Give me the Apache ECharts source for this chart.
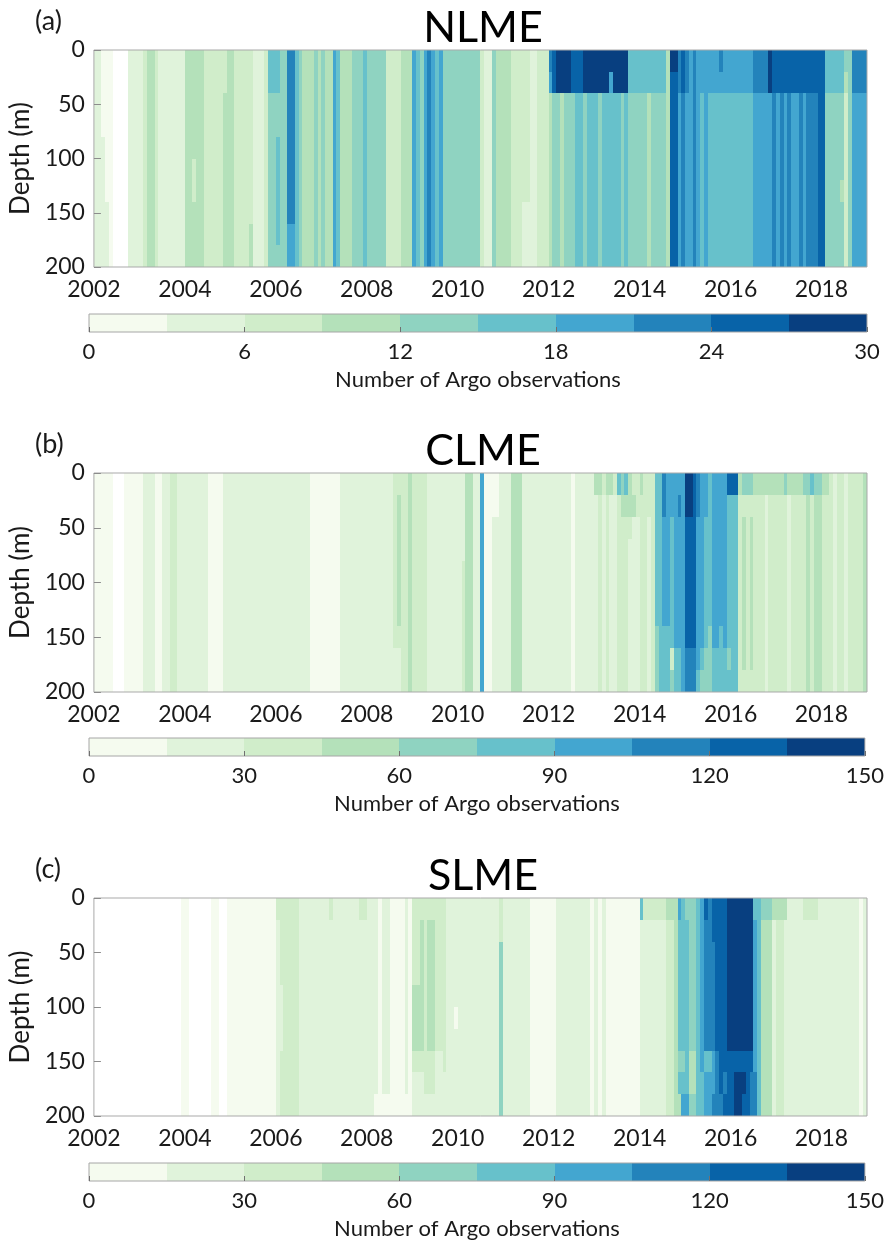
<!DOCTYPE html>
<html><head><meta charset="utf-8">
<script src="https://cdn.jsdelivr.net/npm/echarts@6/dist/echarts.min.js"></script>
<style>html,body{margin:0;padding:0;background:#fff}#c{width:887px;height:1245px}</style>
</head><body><div id="c"></div>
<script>
// ---------- data ----------
const startYear = 2002, endYear = 2019;
const yearTickStep = 2;
const depthEdges = [0, 20, 40, 60, 80, 100, 120, 140, 160, 180, 200];
const depthTickStep = 50;
const palette = ['#f5fbef', '#e0f3db', '#d0edca', '#b4e1ba', '#8fd3c1',
                 '#67c1cb', '#43a6d0', '#2383bb', '#0863a8', '#083f80'];
const nlmeLevels = [0, 3, 6, 9, 12, 15, 18, 21, 24, 27, 30];
const clmeLevels = [0, 15, 30, 45, 60, 75, 90, 105, 120, 135, 150];
const slmeLevels = [0, 15, 30, 45, 60, 75, 90, 105, 120, 135, 150];
const nlmeTicks = [0, 6, 12, 18, 24, 30];
const clmeTicks = [0, 30, 60, 90, 120, 150];
const slmeTicks = [0, 30, 60, 90, 120, 150];
const panelNames = ['NLME', 'CLME', 'SLME'];
const panelLetters = ['(a)', '(b)', '(c)'];

// monthly runs from Jan 2002: [number of months, colour class per 20 m depth bin (0-20 ... 180-200 m), '-' = no data]
const nlmeRuns = [
 [2,'1111111111'],[1,'0000111111'],[1,'0000000111'],[1,'0000000000'],[4,'----------'],
 [4,'1111111111'],[1,'2222222222'],[2,'3333333333'],[1,'2222222222'],[7,'1111111111'],
 [2,'3333333333'],[1,'3333322333'],[2,'3333333333'],[5,'2222222222'],[1,'2233333333'],
 [2,'3333333333'],[4,'2222222222'],[1,'2222222233'],[3,'1111111111'],[1,'2222222222'],
 [2,'5544444444'],[1,'5544555554'],[2,'4444444444'],[2,'7777777766'],[1,'5555555555'],
 [1,'4444444444'],[3,'3333333333'],[1,'4444444444'],[1,'3333333333'],[1,'4444444444'],
 [2,'3333333333'],[1,'6666666666'],[1,'5555555555'],[3,'3333333333'],[3,'4444444444'],
 [1,'5555555555'],[5,'4444444444'],[4,'2222222222'],[3,'3333333333'],[1,'6666666666'],
 [1,'5555555555'],[1,'4444444444'],[1,'6666666666'],[1,'7777777777'],[1,'6666666666'],
 [1,'5555555555'],[1,'6666666666'],[10,'4444444444'],[1,'2222222222'],[2,'1111111111'],
 [1,'4444444444'],[4,'3333333333'],[3,'2222222222'],[2,'2222222111'],[2,'1111111111'],
 [3,'2222222222'],[1,'7633333333'],[1,'8844444444'],[1,'9944444444'],[1,'9933333333'],
 [2,'9944444444'],[1,'8844444444'],[2,'8855555555'],[1,'9944444444'],[3,'9955555555'],
 [1,'9944444444'],[2,'9955555555'],[1,'9655555555'],[2,'9955555555'],[1,'9944444444'],
 [1,'9955555555'],[5,'5544444444'],[1,'5533333333'],[4,'5544444444'],[1,'3333333333'],
 [2,'9888888888'],[1,'7766666666'],[1,'8877777777'],[1,'7766666666'],[1,'6666666666'],
 [1,'7777777777'],[1,'6666666666'],[1,'6655555555'],[1,'6666666666'],[3,'6655555555'],
 [1,'7655555555'],[8,'6655555555'],[4,'7766666666'],[1,'9966666666'],[1,'8877777777'],
 [1,'8866666666'],[1,'8877777777'],[1,'8866666666'],[1,'8877777777'],[2,'8866666666'],
 [1,'8877777777'],[1,'8866666666'],[3,'8877777777'],[2,'8888888888'],[4,'5544444444'],
 [1,'5544443444'],[1,'4322222222'],[1,'4444444444'],[4,'7766666666']
];
const clmeRuns = [
 [5,'0000000000'],[3,'----------'],[5,'0000000000'],[3,'1111111111'],[2,'0000000000'],
 [2,'1111111111'],[2,'2222222222'],[8,'1111111111'],[4,'0000000000'],[23,'1111111111'],
 [8,'0000000000'],[14,'1111111111'],[1,'2222222211'],[1,'2333333211'],[2,'2222222222'],
 [1,'3333333333'],[4,'2222222222'],[9,'1111111111'],[1,'1111222222'],[2,'3333333333'],
 [2,'1111111111'],[1,'6666666666'],[2,'0000000000'],[2,'0011111111'],[3,'1111111111'],
 [3,'3333333333'],[13,'1111111111'],[1,'0000000000'],[5,'1111111111'],[1,'3111111111'],
 [1,'3222222222'],[1,'2111111111'],[1,'3222222222'],[1,'3111111111'],[1,'2111111111'],
 [1,'5222222222'],[1,'4322222222'],[1,'5322222222'],[1,'3321111111'],[1,'2311111111'],
 [1,'2211111111'],[1,'3222222222'],[1,'2222222222'],[1,'2211111111'],[1,'2222222222'],
 [1,'5555555444'],[1,'5555555555'],[1,'7766666555'],[1,'6666666555'],[1,'6655555524'],
 [1,'6666666655'],[1,'6766666655'],[1,'6666666666'],[2,'9988888877'],[1,'8888888877'],
 [1,'7766666665'],[1,'6666666654'],[1,'6655555544'],[1,'5555555444'],[2,'6666666655'],
 [1,'6666666555'],[1,'6666666655'],[1,'8555555545'],[2,'8555555555'],[1,'3222222222'],
 [1,'4233333332'],[1,'4222222222'],[1,'4233333332'],[3,'3222222222'],[1,'3111111111'],
 [4,'3222222222'],[1,'4222222222'],[1,'3111111111'],[3,'3222222222'],[1,'4222222222'],
 [1,'4333333333'],[1,'5222222222'],[2,'4333333333'],[2,'3222222222'],[1,'2222222222'],
 [1,'1111111111'],[2,'2222222222'],[1,'1111111111'],[4,'2222222222'],[1,'3333333333']
];
const slmeRuns = [
 [23,'----------'],[2,'0000000000'],[6,'----------'],[2,'0000000000'],[2,'----------'],
 [13,'0000000000'],[1,'2111111111'],[1,'2222111222'],[4,'2222222222'],[8,'1111111111'],
 [1,'2111111111'],[7,'1111111111'],[2,'2111111111'],[2,'1111111111'],[1,'1111111110'],
 [1,'0000000000'],[2,'1111111110'],[4,'0000000000'],[1,'1111111110'],[1,'0000000000'],
 [2,'2222333211'],[1,'2333333211'],[1,'2222222221'],[2,'2333333221'],[2,'2222222111'],
 [1,'2222222211'],[2,'1111111111'],[1,'1111101111'],[11,'1111111111'],[1,'2244444444'],
 [7,'1111111111'],[7,'0000000000'],[9,'1111111111'],[1,'0000000000'],[1,'1111111111'],
 [1,'0000000000'],[1,'1111111111'],[9,'0000000000'],[1,'5111111111'],[6,'2111111111'],
 [2,'3222222222'],[1,'3333333333'],[1,'6555555453'],[1,'5555555456'],[1,'4555555556'],
 [2,'4444444334'],[1,'5555555555'],[1,'6666666655'],[1,'8777777566'],[1,'7777777566'],
 [1,'8877777667'],[1,'8888888777'],[1,'8888888887'],[1,'8888888878'],[2,'9999999888'],
 [2,'9999999899'],[1,'9999999898'],[1,'9999999888'],[1,'9999999877'],[1,'5666666677'],
 [1,'5555555555'],[3,'4333333333'],[1,'3111111111'],[2,'3222222222'],[1,'3111111111'],
 [4,'1111111111'],[4,'2111111111'],[11,'1111111111'],[1,'0000000000'],[1,'1111111111']
];

// ---------- build ----------
function buildCells(runs) {
  const cells = [];
  let m = 0;
  runs.forEach(([n, prof]) => {
    let d = 0;
    while (d < prof.length) {
      let e = d;
      while (e + 1 < prof.length && prof[e + 1] === prof[d]) e++;
      if (prof[d] !== '-') {
        cells.push([startYear + m / 12, startYear + (m + n) / 12, depthEdges[d], depthEdges[e + 1], +prof[d]]);
      }
      d = e + 1;
    }
    m += n;
  });
  return cells;
}
function buildBar(levels) {
  const out = [];
  for (let i = 0; i < levels.length - 1; i++) out.push([levels[i], levels[i + 1], 0, 1, i]);
  return out;
}
function renderRect(params, api) {
  const p0 = api.coord([api.value(0), api.value(2)]);
  const p1 = api.coord([api.value(1), api.value(3)]);
  const x0 = Math.round(p0[0]), x1 = Math.round(p1[0]);
  const y0 = Math.round(Math.min(p0[1], p1[1])), y1 = Math.round(Math.max(p0[1], p1[1]));
  return { type: 'rect', shape: { x: x0, y: y0, width: x1 - x0, height: y1 - y0 },
           style: { fill: palette[api.value(4)] } };
}

const runsAll = [nlmeRuns, clmeRuns, slmeRuns];
const levelsAll = [nlmeLevels, clmeLevels, slmeLevels];
const ticksAll = [nlmeTicks, clmeTicks, slmeTicks];
const FONT = 'Lato, "Open Sans", sans-serif';
const NARROW = '"Liberation Sans Narrow", Lato, sans-serif';
const plotLeft = 89, plotWidth = 778;
const panelTop = [50, 473, 898];
const panelH = [217, 219, 218];
const barTop = [314, 738, 1163];
const barH = 18;

const grid = [], xAxis = [], yAxis = [], series = [], title = [];
for (let k = 0; k < 3; k++) {
  grid.push({ left: plotLeft, top: panelTop[k], width: plotWidth, height: panelH[k],
              show: true, borderColor: '#a9a9a9', borderWidth: 1, backgroundColor: 'transparent', z: 10 });
  grid.push({ left: plotLeft, top: barTop[k], width: plotWidth, height: barH,
              show: true, borderColor: '#a6a6a6', borderWidth: 1, backgroundColor: 'transparent', z: 10 });
  xAxis.push({ gridIndex: 2 * k, type: 'value', min: startYear, max: endYear, interval: yearTickStep,
    axisLine: { show: false }, axisTick: { show: false }, splitLine: { show: false },
    axisLabel: { fontSize: 23, fontFamily: FONT, color: '#1a1a1a', margin: 11, showMaxLabel: false,
                 formatter: v => String(v) } });
  yAxis.push({ gridIndex: 2 * k, type: 'value', inverse: true, min: depthEdges[0], max: depthEdges[depthEdges.length - 1],
    interval: depthTickStep, z: 11,
    axisLine: { show: false }, splitLine: { show: false },
    axisTick: { show: true, inside: true, length: 7, lineStyle: { color: '#8c8c8c', width: 1 } },
    axisLabel: { fontSize: 23, fontFamily: FONT, color: '#1a1a1a', margin: 9 },
    name: 'Depth (m)', nameLocation: 'middle', nameGap: 49,
    nameTextStyle: { fontSize: 26, fontFamily: FONT, color: '#1a1a1a' } });
  const lv = levelsAll[k], tk = ticksAll[k];
  xAxis.push({ gridIndex: 2 * k + 1, type: 'value', min: lv[0], max: lv[lv.length - 1], interval: tk[1] - tk[0], z: 11,
    axisLine: { show: false }, splitLine: { show: false },
    axisTick: { show: true, inside: true, length: 5, lineStyle: { color: '#707070', width: 1 } },
    axisLabel: { fontSize: 22, fontFamily: NARROW, color: '#1a1a1a', margin: 9 },
    name: 'Number of Argo observations', nameLocation: 'middle', nameGap: 37,
    nameTextStyle: { fontSize: 22, fontFamily: FONT, color: '#1a1a1a' } });
  yAxis.push({ gridIndex: 2 * k + 1, type: 'value', min: 0, max: 1, show: false });
  series.push({ type: 'custom', xAxisIndex: 2 * k, yAxisIndex: 2 * k, renderItem: renderRect,
                encode: { x: [0, 1], y: [2, 3] }, data: buildCells(runsAll[k]), clip: true, silent: true });
  series.push({ type: 'custom', xAxisIndex: 2 * k + 1, yAxisIndex: 2 * k + 1, renderItem: renderRect,
                encode: { x: [0, 1], y: [2, 3] }, data: buildBar(lv), silent: true });
  title.push({ text: panelLetters[k], left: 30, top: panelTop[k] - 47,
               textStyle: { fontSize: 27, fontWeight: 'normal', fontFamily: FONT, color: '#1a1a1a' } });
  title.push({ text: panelNames[k], left: plotLeft + plotWidth / 2, textAlign: 'center', top: panelTop[k] - 48,
               textStyle: { fontSize: 43, fontWeight: 'normal', fontFamily: FONT, color: '#000' } });
}

const chart = echarts.init(document.getElementById('c'), null, { renderer: 'canvas' });
chart.setOption({ animation: false, backgroundColor: '#fff', title, grid, xAxis, yAxis, series });
</script></body></html>
